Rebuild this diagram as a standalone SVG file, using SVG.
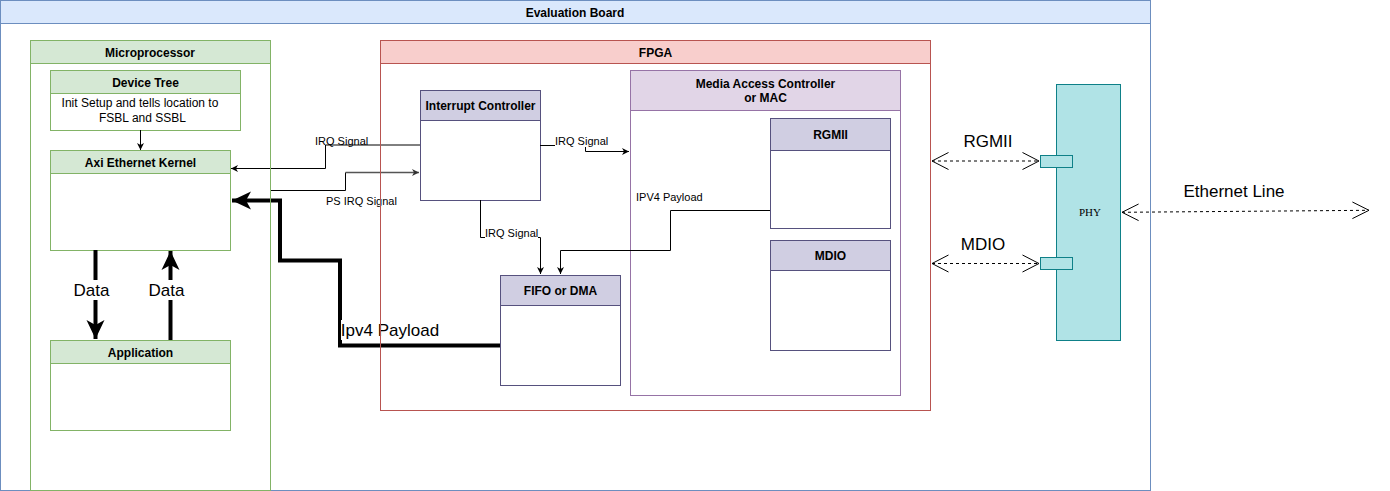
<svg xmlns="http://www.w3.org/2000/svg" width="1390" height="491" viewBox="0 0 1390 491">
<defs>
<style>
text{font-family:"Liberation Sans",Arial,Helvetica,sans-serif;fill:#000}
.h{font-size:12px;font-weight:bold;text-anchor:middle}
.t{font-size:12px;text-anchor:middle}
.s{font-size:11px}
.big{font-size:17px;text-anchor:middle}
.grn{fill:#d5e8d4;stroke:#82b366}
.red{fill:#f8cecc;stroke:#b85450}
.blu{fill:#dae8fc;stroke:#6c8ebf}
.pur{fill:#d0cee2;stroke:#56517e}
.mac{fill:#e1d5e7;stroke:#9673a6}
.wb{fill:#fff}
.nf{fill:none}
.ln{fill:none;stroke:#000;stroke-width:1}
.thick{fill:none;stroke:#000;stroke-width:4}
.dash{fill:none;stroke:#000;stroke-width:1;stroke-dasharray:3 3}
.open{fill:none;stroke:#000;stroke-width:1}
</style>
<marker id="a" markerWidth="8" markerHeight="8" viewBox="0 0 8 8" refX="7" refY="4" orient="auto" markerUnits="userSpaceOnUse">
<path d="M0,0.5 L7,4 L0,7.5 L2,4 Z" fill="#000"/>
</marker>
<marker id="ag" markerWidth="8" markerHeight="8" viewBox="0 0 8 8" refX="7" refY="4" orient="auto" markerUnits="userSpaceOnUse">
<path d="M0,0.5 L7,4 L0,7.5 L2,4 Z" fill="#333"/>
</marker>
<marker id="A" markerWidth="20" markerHeight="20" viewBox="0 0 20 20" refX="19" refY="10" orient="auto" markerUnits="userSpaceOnUse">
<path d="M0,1 L19,10 L0,19 L5,10 Z" fill="#000"/>
</marker>
</defs>

<g id="evaluation-board">
<rect x="0.5" y="0.5" width="1150" height="490" fill="#fff" stroke="#6c8ebf"/>
<rect x="0.5" y="0.5" width="1150" height="23" class="blu"/>
<text x="575" y="17" class="h">Evaluation Board</text>
</g>

<g id="device-tree">
<rect x="50.5" y="70.5" width="190" height="60" class="wb" stroke="#82b366"/>
<rect x="50.5" y="70.5" width="190" height="23" class="grn"/>
<text x="145.5" y="87" class="h">Device Tree</text>
<text x="140" y="107" class="t">Init Setup and tells location to</text>
<text x="142.5" y="122" class="t">FSBL and SSBL</text>
</g>

<g id="axi-ethernet-kernel">
<rect x="50.5" y="150.5" width="180" height="100" class="wb" stroke="#82b366"/>
<rect x="50.5" y="150.5" width="180" height="23" class="grn"/>
<text x="140.5" y="167" class="h">Axi Ethernet Kernel</text>
</g>

<g id="application">
<rect x="50.5" y="340.5" width="180" height="90" class="wb" stroke="#82b366"/>
<rect x="50.5" y="340.5" width="180" height="23" class="grn"/>
<text x="140.5" y="357" class="h">Application</text>
</g>

<g id="interrupt-controller">
<rect x="420.5" y="90.5" width="120" height="110" class="wb" stroke="#56517e"/>
<rect x="420.5" y="90.5" width="120" height="30" class="pur"/>
<text x="480.5" y="110" class="h">Interrupt Controller</text>
</g>

<g id="mac">
<rect x="630.5" y="70.5" width="270" height="325" class="wb" stroke="#9673a6"/>
<rect x="630.5" y="70.5" width="270" height="40" class="mac"/>
<text x="765.5" y="88" class="h">Media Access Controller</text>
<text x="765.5" y="102" class="h">or MAC</text>
</g>

<g id="rgmii">
<rect x="770.5" y="118.5" width="120" height="110" class="wb" stroke="#56517e"/>
<rect x="770.5" y="118.5" width="120" height="32" class="pur"/>
<text x="830.5" y="139" class="h">RGMII</text>
</g>

<g id="mdio">
<rect x="770.5" y="240.5" width="120" height="110" class="wb" stroke="#56517e"/>
<rect x="770.5" y="240.5" width="120" height="30" class="pur"/>
<text x="830.5" y="260" class="h">MDIO</text>
</g>

<g id="fifo-dma">
<rect x="500.5" y="275.5" width="120" height="110" class="wb" stroke="#56517e"/>
<rect x="500.5" y="275.5" width="120" height="30" class="pur"/>
<text x="560.5" y="295" class="h">FIFO or DMA</text>
</g>

<g id="phy">
<rect x="1056.5" y="84.5" width="64" height="256" fill="#b0e3e6" stroke="#0e8088"/>
<rect x="1040.5" y="155.5" width="32" height="12" fill="#b0e3e6" stroke="#0e8088"/>
<rect x="1040.5" y="257.5" width="32" height="12" fill="#b0e3e6" stroke="#0e8088"/>
<text x="1090" y="216" style="font-family:'Liberation Serif','Times New Roman',serif;font-size:11px;text-anchor:middle">PHY</text>
</g>

<g id="connectors">
<!-- IRQ to Axi -->
<path d="M420,145 L325.5,145 L325.5,168.5 L231,168.5" class="ln" marker-end="url(#a)"/>
<text x="315" y="145" class="s">IRQ Signal</text>
<!-- PS IRQ -->
<path d="M270,190.5 L345.5,190.5 L345.5,172.5" class="ln"/>
<path d="M345.5,172.5 L419,172.5" fill="none" stroke="#555" stroke-width="1.5" marker-end="url(#ag)"/>
<text x="326" y="205" class="s">PS IRQ Signal</text>
<!-- IRQ to MAC -->
<path d="M540,145.5 L585.5,145.5 L585.5,151.5 L629,151.5" class="ln" marker-end="url(#a)"/>
<rect x="555" y="134" width="53" height="13" fill="#fff"/>
<text x="555" y="145" class="s">IRQ Signal</text>
<!-- IRQ to FIFO -->
<path d="M480.5,200 L480.5,237.5 L540.5,237.5 L540.5,274" class="ln" marker-end="url(#a)"/>
<rect x="485" y="226" width="53" height="13" fill="#fff"/>
<text x="485" y="237" class="s">IRQ Signal</text>
<!-- IPV4 thin -->
<path d="M770,210.5 L670.5,210.5 L670.5,250.5 L560.5,250.5 L560.5,274" class="ln" marker-end="url(#a)"/>
<text x="636" y="201" class="s">IPV4 Payload</text>
<!-- Device tree to Axi -->
<path d="M140.5,130 L140.5,150" class="ln" marker-end="url(#a)"/>
<!-- thick Ipv4 payload -->
<path d="M500,345.5 L340,345.5 L340,260.5 L280,260.5 L280,200.5 L232,200.5" class="thick" stroke-linejoin="miter" marker-end="url(#A)"/>
<rect x="341" y="320" width="98" height="20" fill="#fff"/>
<text x="390" y="336" class="big">Ipv4 Payload</text>
<!-- Data arrows -->
<path d="M95.5,250 L95.5,339" class="thick" marker-end="url(#A)"/>
<path d="M170.5,340 L170.5,251" class="thick" marker-end="url(#A)"/>
<rect x="72" y="280" width="40" height="20" fill="#fff"/>
<text x="91.5" y="296" class="big">Data</text>
<rect x="147" y="280" width="40" height="20" fill="#fff"/>
<text x="166.5" y="296" class="big">Data</text>
<!-- RGMII dashed -->
<path d="M932,161 L1039,161" class="dash"/>
<path d="M948.5,152.5 L932,161 L948.5,169.5 M1022.5,152.5 L1039,161 L1022.5,169.5" class="open"/>
<text x="988" y="147" class="big">RGMII</text>
<!-- MDIO dashed -->
<path d="M932,263.5 L1039,263.5" class="dash"/>
<path d="M948.5,255 L932,263.5 L948.5,272 M1022.5,255 L1039,263.5 L1022.5,272" class="open"/>
<text x="983" y="250" class="big">MDIO</text>
<!-- Ethernet line -->
<path d="M1122,212.3 L1369,210.3" class="dash"/>
<path d="M1138.6,204 L1122,212.3 L1138.6,220.6 M1352.4,202 L1369,210.3 L1352.4,218.6" class="open"/>
<text x="1234" y="197" class="big">Ethernet Line</text>
</g>

<g id="microprocessor">
<rect x="30.5" y="40.5" width="240" height="450" class="nf" stroke="#82b366"/>
<rect x="30.5" y="40.5" width="240" height="23" class="grn"/>
<text x="150" y="57" class="h">Microprocessor</text>
</g>

<g id="fpga">
<rect x="380.5" y="40.5" width="550" height="370" class="nf" stroke="#b85450"/>
<rect x="380.5" y="40.5" width="550" height="23" class="red"/>
<text x="655.5" y="57" class="h">FPGA</text>
</g>
</svg>
